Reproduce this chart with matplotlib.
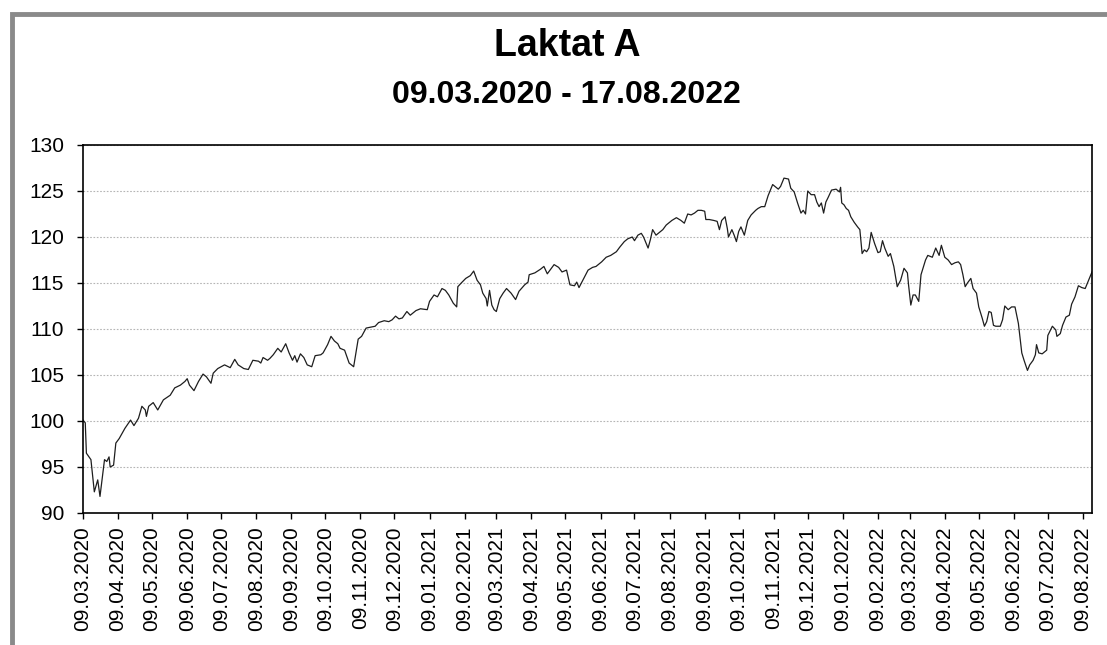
import numpy as np
import pandas as pd
import matplotlib
matplotlib.use("Agg")
import matplotlib.pyplot as plt
import matplotlib.dates as mdates
from matplotlib.patches import Rectangle

plt.rcParams['font.family'] = ['Liberation Sans', 'DejaVu Sans']

start_date = "2020-03-09"
end_date = "2022-08-17"

# days after 09.03.2020
day_offset = [
    0, 2, 3, 7, 10, 13, 15, 19, 21, 23, 24, 27, 29, 32, 37, 42, 45, 49, 52, 55,
    56, 58, 62, 66, 71, 77, 81, 86, 90, 92, 94, 98, 102, 106, 109, 113, 115, 119,
    125, 130, 134, 137, 142, 146, 150, 155,
    157, 159, 163, 165, 168, 172, 175, 179, 182, 185, 187, 189, 192, 195, 198,
    202, 205, 210, 212, 216, 219, 222, 225, 227, 231, 235, 239, 241, 243, 246,
    250, 254, 258, 261, 266, 270, 273, 276, 279, 282, 286, 289, 294, 298, 304, 306,
    310, 313, 317, 320, 323, 327, 330, 331, 334, 338, 342, 345, 348, 351, 353,
    356, 357, 359, 361, 363, 365, 368, 371, 374, 378, 382, 385, 390, 393, 394,
    399, 404, 407, 410, 413, 416, 420, 423, 427, 430, 434, 436, 438, 443, 446, 450,
    453, 458, 462, 466, 471, 474, 478, 481, 485, 487, 490, 493, 495, 499, 501,
    503, 506, 509, 512, 515, 520, 524, 528, 531, 534, 537, 540, 543, 546, 549,
    550, 553, 557, 560, 562, 564, 567, 569, 570, 573, 575, 577, 579, 581, 584,
    587, 590, 594, 596,
    599, 602, 605, 609, 614, 616, 619, 623, 625, 628, 631, 634, 636, 638, 640,
    643, 646, 648, 650, 652, 654, 656, 658, 661, 665, 668, 669, 670, 672, 674,
    676, 678, 681, 684, 686, 688, 690, 692, 694, 696, 699, 702, 704, 706, 708,
    711, 713, 716, 719, 722, 725, 728, 729, 731, 733, 735, 738, 740, 744, 746,
    750, 753, 756, 758,
    761, 764, 767, 770, 773, 775, 777, 779, 781, 784, 786, 789, 791, 794, 796,
    798, 800, 802, 804, 806, 810, 812, 814, 817, 820, 823, 826, 829, 831, 834,
    836, 839, 841, 842, 844, 847, 851, 852, 856, 859, 860, 863, 865, 868, 871,
    873, 876, 879, 882, 885, 888, 891,
]

laktat_a = [
    100.1, 99.8, 96.5, 95.8, 92.3, 93.6, 91.8, 95.8, 95.6, 96.1, 95.0, 95.2, 97.6,
    98.1, 99.2, 100.1, 99.5, 100.3, 101.6, 101.2, 100.5, 101.6, 102.0, 101.2, 102.3,
    102.8, 103.6, 103.9, 104.3, 104.6, 103.9, 103.3, 104.3, 105.1, 104.8, 104.1,
    105.2, 105.7, 106.1, 105.8, 106.7, 106.1, 105.7, 105.6, 106.6, 106.5,
    106.3, 106.9, 106.6, 106.8, 107.2, 107.9, 107.5, 108.4, 107.4, 106.6, 107.1,
    106.4, 107.3, 106.9, 106.1, 105.9, 107.1, 107.2, 107.4, 108.3, 109.2, 108.7,
    108.4, 107.9, 107.7, 106.3, 105.9, 107.4, 108.9, 109.2, 110.1, 110.2, 110.3,
    110.7, 110.9, 110.8, 111.0, 111.4, 111.1, 111.2, 111.9, 111.5, 112.0, 112.2,
    112.1, 113.0,
    113.7, 113.5, 114.4, 114.2, 113.7, 112.8, 112.4, 114.6, 115.0, 115.5, 115.8,
    116.3, 115.3, 114.8, 113.9, 113.3, 112.5, 114.2, 112.6, 112.1, 111.9, 113.3,
    113.9, 114.4, 113.9, 113.2, 114.1, 114.8, 115.1, 115.9, 116.1, 116.5, 116.8,
    116.0, 116.5, 117.0, 116.7, 116.2, 116.4, 114.8, 114.7, 115.1, 114.5, 115.7,
    116.4, 116.7,
    116.8, 117.3, 117.8, 118.0, 118.4, 118.9, 119.5, 119.8, 120.0, 119.6, 120.2,
    120.4, 120.0, 118.8, 119.7, 120.8, 120.2, 120.5, 120.8, 121.3, 121.8, 122.1,
    121.8, 121.5, 122.5, 122.4, 122.6, 122.9, 122.9, 122.8, 121.9, 121.9, 121.8,
    121.7, 120.8, 121.8, 122.2, 120.9, 120.0, 120.8, 120.2, 119.5, 120.6, 121.1,
    120.2, 121.8, 122.4, 122.9, 123.1,
    123.3, 123.3, 124.5, 125.7, 125.2, 125.5, 126.4, 126.3, 125.3, 124.9, 123.7,
    122.6, 122.9, 122.5, 125.0, 124.6, 124.6, 123.8, 123.3, 123.7, 122.6, 123.8,
    124.3, 125.1, 125.2, 124.9, 125.4, 123.7, 123.5, 123.1, 122.9, 122.2, 121.6,
    121.1, 120.8, 118.2, 118.6, 118.4, 118.8, 120.5, 119.3, 118.3, 118.4, 119.6,
    118.8, 117.9, 118.2, 116.8, 114.6, 115.3, 116.6, 116.1, 114.8, 112.6, 113.7,
    113.7, 113.0, 115.9, 117.5, 118.0, 117.8, 118.8, 118.0, 119.1,
    117.8, 117.5, 117.0, 117.2, 117.3, 117.0, 115.9, 114.6, 115.0, 115.5, 114.4,
    113.9, 112.4, 111.2, 110.3, 110.8, 111.9, 111.8, 110.4, 110.3, 110.3, 111.0,
    112.5, 112.1, 112.4, 112.4, 110.6, 107.4, 106.6, 105.5, 106.1, 106.6, 107.2,
    108.3, 107.4, 107.3, 107.7, 109.3, 110.3, 109.9, 109.2, 109.5, 110.4, 111.3,
    111.5, 112.7, 113.5, 114.7, 114.5, 114.4, 115.3, 116.2,
]

y_ticks = [90, 95, 100, 105, 110, 115, 120, 125, 130]

dates = pd.Timestamp(start_date) + pd.to_timedelta(day_offset, unit="D")
month_ticks = pd.date_range("2020-03-01", end_date, freq="MS") + pd.Timedelta(days=8)

W, H = 1107, 645
fig = plt.figure(figsize=(W / 100, H / 100), dpi=100, facecolor='w')

# scanned outer frame (cut off at right and bottom)
fig.patches.append(Rectangle((12 / W, -0.05), 1.2, 1 - 13.5 / H + 0.05,
                             transform=fig.transFigure, fill=False,
                             edgecolor='#8a8a8a', linewidth=3.5))

ax = fig.add_axes([83 / W, 1 - 513 / H, (1092 - 83) / W, (513 - 145) / H])
ax.plot(dates, laktat_a, color='#1e1e1e', lw=0.9)

ax.set_xlim(pd.Timestamp(start_date), pd.Timestamp(end_date))
ax.set_ylim(90, 130)
ax.set_yticks(y_ticks)
ax.set_xticks(month_ticks)
ax.xaxis.set_major_formatter(mdates.DateFormatter('%d.%m.%Y'))
plt.setp(ax.get_xticklabels(), rotation=90)
ax.tick_params(axis='both', labelsize=15, direction='out', length=4.5,
               width=1, color='k', labelcolor='k')
ax.tick_params(axis='x', pad=5)
ax.tick_params(axis='y', pad=9)

ax.grid(axis='y', color='#b5b5b5', linestyle=(0, (1.5, 1.5)), lw=0.8)
ax.set_axisbelow(True)
for s in ax.spines.values():
    s.set_color('k')
    s.set_linewidth(1.2)

fig.text(567 / W, 1 - 46 / H, 'Laktat A', ha='center', va='center',
         fontsize=27, fontweight='bold')
fig.text(566 / W, 1 - 95 / H, '09.03.2020 - 17.08.2022', ha='center',
         va='center', fontsize=23, fontweight='bold')

fig.savefig('out.png', dpi=100)
